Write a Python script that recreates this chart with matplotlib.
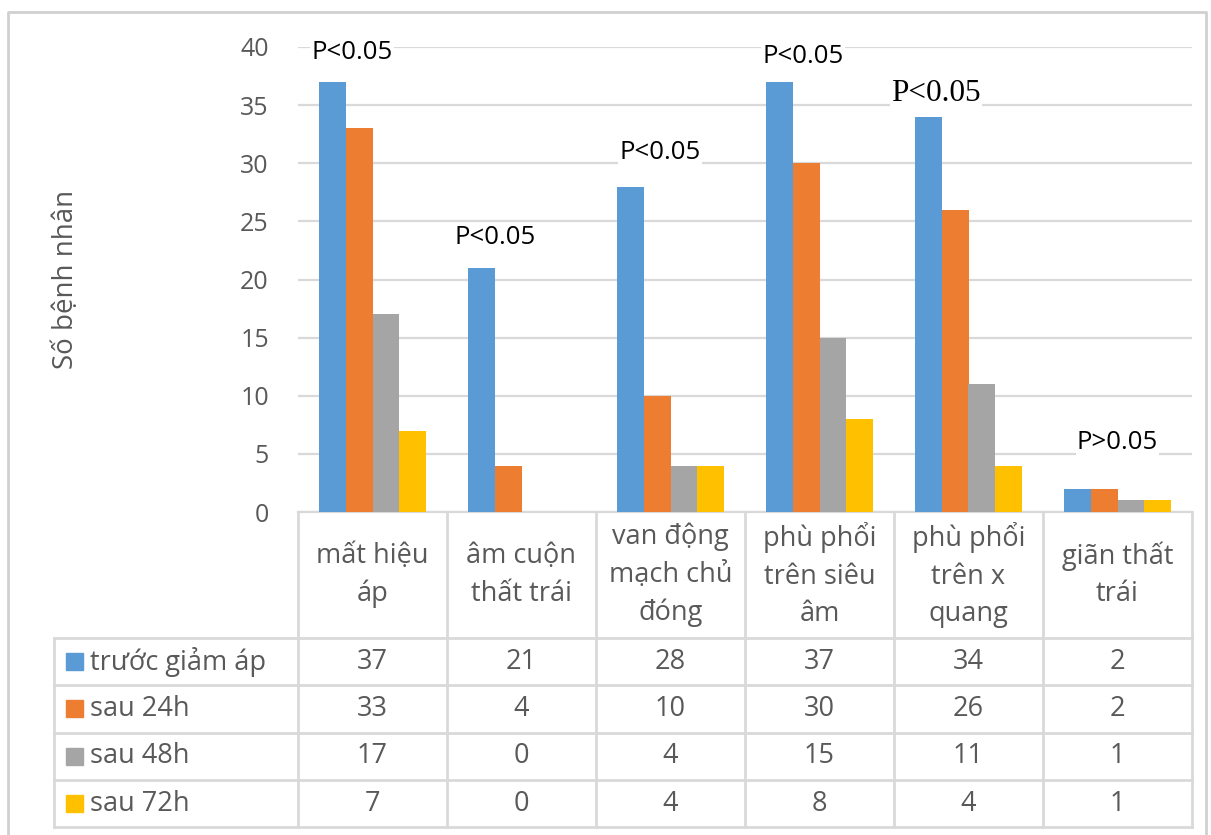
import matplotlib.pyplot as plt
import numpy as np

plt.rcParams['font.family'] = ['Open Sans', 'DejaVu Sans']

categories = ["mất hiệu\náp", "âm cuộn\nthất trái", "van động\nmạch chủ\nđóng",
              "phù phổi\ntrên siêu\nâm", "phù phổi\ntrên x\nquang", "giãn thất\ntrái"]
series_names = ["trước giảm áp", "sau 24h", "sau 48h", "sau 72h"]
truoc = [37, 21, 28, 37, 34, 2]
sau_24h = [33, 4, 10, 30, 26, 2]
sau_48h = [17, 0, 4, 15, 11, 1]
sau_72h = [7, 0, 4, 8, 4, 1]
p_labels = ["P<0.05", "P<0.05", "P<0.05", "P<0.05", "P<0.05", "P>0.05"]

colors = ["#5B9BD5", "#ED7D31", "#A5A5A5", "#FFC000"]
text_gray = "#595959"
line_gray = "#D9D9D9"

W, H = 1211, 835
fig = plt.figure(figsize=(W / 100, H / 100), dpi=100)

# plot area in pixels
x0, x1 = 298, 1192
y_top, y_base = 47, 512
ax = fig.add_axes([x0 / W, 1 - y_base / H, (x1 - x0) / W, (y_base - y_top) / H])

values = [truoc, sau_24h, sau_48h, sau_72h]
n = len(categories)
x = np.arange(n)
bw = 0.181
for i, (vals, c) in enumerate(zip(values, colors)):
    ax.bar(x + (i - 1.5) * bw, vals, width=bw, color=c, zorder=3)

ax.set_xlim(-0.5, n - 0.5)
ax.set_ylim(0, 40)
ax.set_yticks(range(0, 41, 5))
ax.yaxis.grid(True, color=line_gray, linewidth=1.6, zorder=0)
ax.tick_params(axis='y', length=0, labelsize=18, labelcolor=text_gray, pad=21)
ax.set_xticks([])
for s in ["top", "right", "left"]:
    ax.spines[s].set_visible(False)
ax.spines["bottom"].set_color(line_gray)
ax.spines["bottom"].set_linewidth(1.6)
ax.set_ylabel("Số bệnh nhân", fontsize=20, color=text_gray, va="center")
ax.yaxis.set_label_coords(-0.26, 0.5)

# p-value notes above each group
p_pos = [(-0.14, 39.5), (-0.18, 23.6), (-0.07, 30.9), (-0.11, 39.2), (-0.22, 36.0), (0.0, 6.0)]
for k, (lbl, (dx, yv)) in enumerate(zip(p_labels, p_pos)):
    if k == 4:
        ax.text(k + dx, yv, lbl, ha="center", va="center", fontsize=22.5,
                family="Liberation Serif", color="black", zorder=5,
                bbox=dict(facecolor="white", edgecolor="none", pad=1))
    else:
        ax.text(k + dx, yv, lbl, ha="center", va="center", fontsize=18.5,
                color="black", zorder=5,
                bbox=dict(facecolor="white", edgecolor="none", pad=1))

# data table below the chart, drawn in pixel space
tab = fig.add_axes([0, 0, 1, 1])
tab.set_xlim(0, W)
tab.set_ylim(H, 0)
tab.axis("off")

# outer chart frame
tab.plot([8, 8, 1206, 1206], [H + 5, 12, 12, H + 5], color="#D0D0D0", lw=2)

col_w = (x1 - x0) / n
col_edges = [x0 + col_w * i for i in range(n + 1)]
head_bot = 638
row_h = 47.3
row_edges = [head_bot + row_h * r for r in range(len(series_names) + 1)]
leg_left = 54

kw = dict(color=line_gray, lw=2)
for xe in col_edges:
    tab.plot([xe, xe], [y_base, row_edges[-1]], **kw)
tab.plot([leg_left, leg_left], [head_bot, row_edges[-1]], **kw)
for ye in row_edges:
    tab.plot([leg_left, x1], [ye, ye], **kw)

for j, cat in enumerate(categories):
    cx = (col_edges[j] + col_edges[j + 1]) / 2
    tab.text(cx, (y_base + head_bot) / 2, cat, ha="center", va="center",
             fontsize=19.5, color=text_gray, linespacing=1.45)

for r, (name, vals, c) in enumerate(zip(series_names, values, colors)):
    cy = (row_edges[r] + row_edges[r + 1]) / 2
    tab.add_patch(plt.Rectangle((66, cy - 8.5), 17, 17, color=c))
    tab.text(90, cy, name, ha="left", va="center", fontsize=19.5, color=text_gray)
    for j, v in enumerate(vals):
        cx = (col_edges[j] + col_edges[j + 1]) / 2
        tab.text(cx, cy, str(v), ha="center", va="center", fontsize=19.5, color=text_gray)

fig.savefig("out.png", dpi=100, facecolor="white")
